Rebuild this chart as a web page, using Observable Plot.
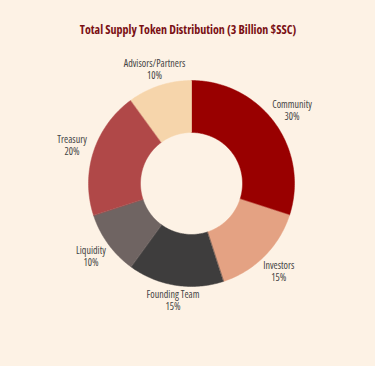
<!DOCTYPE html>
<html><head><meta charset="utf-8">
<script src="https://cdn.jsdelivr.net/npm/d3@7"></script>
<script src="https://cdn.jsdelivr.net/npm/@observablehq/plot@0.6"></script>
<style>
html,body{margin:0;padding:0;background:#fdf2e5;}
#chart svg{display:block;}
</style></head>
<body><div id="chart"></div>
<script>
const title = "Total Supply Token Distribution (3 Billion $SSC)";
const categories = ["Community","Investors","Founding Team","Liquidity","Treasury","Advisors/Partners"];
const shares = [30,15,15,10,20,10];
const colors = ["#990000","#e4a283","#3e3d3d","#6f6462","#b04848","#f6d5ab"];

const outerR = 103, innerR = 51;
const arcs = d3.pie().sort(null).value(d => d)(shares);
const slicePts = [];
arcs.forEach((a, i) => {
  const n = Math.max(2, Math.ceil((a.endAngle - a.startAngle) * 180 / Math.PI));
  for (let k = 0; k <= n; k++) {
    const t = a.startAngle + (a.endAngle - a.startAngle) * k / n;
    slicePts.push({cat: categories[i], x: outerR * Math.sin(t), y: outerR * Math.cos(t)});
  }
  for (let k = n; k >= 0; k--) {
    const t = a.startAngle + (a.endAngle - a.startAngle) * k / n;
    slicePts.push({cat: categories[i], x: innerR * Math.sin(t), y: innerR * Math.cos(t)});
  }
});
const labels = arcs.map((a, i) => {
  const m = (a.startAngle + a.endAngle) / 2;
  const r = outerR + 14 + 9 * Math.abs(Math.sin(m));
  return {cat: categories[i], text: `${categories[i]}\n${shares[i]}%`, x: r * Math.sin(m), y: r * Math.cos(m)};
});

const chart = Plot.plot({
  width: 375, height: 366,
  margin: 0,
  style: {background: "#fdf2e5", fontFamily: "'Open Sans', sans-serif", fontStretch: "condensed"},
  x: {domain: [-191, 184], axis: null},
  y: {domain: [-183, 183], axis: null},
  color: {domain: categories, range: colors},
  marks: [
    Plot.line(slicePts, {x: "x", y: "y", z: "cat", fill: "cat", stroke: "cat", strokeWidth: 0.5, curve: "linear-closed"}),
    Plot.text(labels, {x: "x", y: "y", text: "text", fill: "#444", fontSize: 10, lineHeight: 1.2, lineAnchor: "middle"}),
    Plot.text([title], {frameAnchor: "top", lineAnchor: "bottom", dy: 33, text: d => d, fill: "#7a1014", fontSize: 12, fontWeight: "bold"})
  ]
});
document.getElementById("chart").append(chart);
</script></body></html>
